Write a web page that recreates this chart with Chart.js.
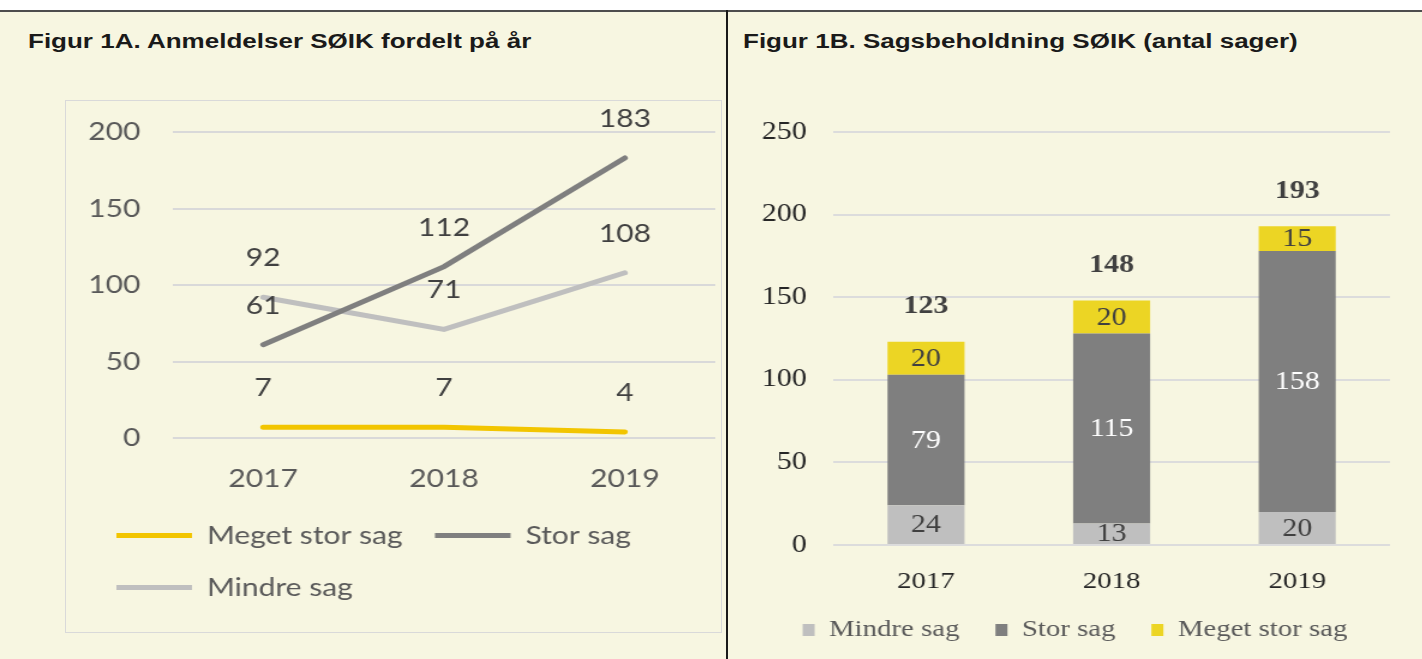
<!DOCTYPE html>
<html>
<head>
<meta charset="utf-8">
<script src="https://cdn.jsdelivr.net/npm/chart.js@4.4.1/dist/chart.umd.min.js"></script>
<style>
    html, body { margin: 0; padding: 0; background: #fff; }
    #page { position: relative; width: 1422px; height: 659px; overflow: hidden; }
    #bg { position: absolute; left: 0; top: 12px; width: 1422px; height: 647px; background: #f7f6e1; }
    #hline { position: absolute; left: 0; top: 10px; width: 1422px; height: 2px; background: #4d4d4d; }
    #vline { position: absolute; left: 726px; top: 10px; width: 2px; height: 649px; background: #1a1a1a; }
    .title { position: absolute; top: 30px; line-height: 24px; font: bold 20px "Liberation Sans", Arial, sans-serif; color: #1a1a1a; white-space: nowrap; transform: scaleX(1.3); transform-origin: 0 0; }
    #boxA { position: absolute; left: 65px; top: 100px; width: 657px; height: 533px; box-sizing: border-box; border: 1px solid #d9d9d9; }
    /* the source picture is stretched sideways, so the charts are too */
    .wrap { position: absolute; transform: scaleX(1.2); transform-origin: 0 0; }
    #wrapA { left: 66px; top: 101px; width: 546px; height: 531px; }
    #wrapB { left: 730px; top: 100px; width: 577px; height: 559px; }
</style>
</head>
<body>
<div id="page">
    <div id="bg"></div>
    <div id="hline"></div>
    <div id="vline"></div>
    <div class="title" style="left:28px">Figur 1A. Anmeldelser SØIK fordelt på år</div>
    <div class="title" style="left:743px">Figur 1B. Sagsbeholdning SØIK (antal sager)</div>
    <div id="boxA"></div>
    <div class="wrap" id="wrapA"><canvas id="chartA"></canvas></div>
    <div class="wrap" id="wrapB"><canvas id="chartB"></canvas></div>
</div>
<script>
// Categories
const years = ['2017', '2018', '2019'];

// Figur 1A: anmeldelser per år
const anmMegetStor = [7, 7, 4];
const anmStor = [61, 112, 183];
const anmMindre = [92, 71, 108];

// Figur 1B: sagsbeholdning (stacked)
const behMindre = [24, 13, 20];
const behStor = [79, 115, 158];
const behMegetStor = [20, 20, 15];

const sansFont = 'Lato';
const serifFont = '"Liberation Serif"';

// Value labels above each point of the line chart
const lineLabels = {
    id: 'lineLabels',
    afterDatasetsDraw(chart) {
        const ctx = chart.ctx;
        ctx.save();
        ctx.font = '25px ' + sansFont;
        ctx.fillStyle = '#404040';
        ctx.textAlign = 'center';
        ctx.textBaseline = 'middle';
        chart.data.datasets.forEach((ds, i) => {
            chart.getDatasetMeta(i).data.forEach((pt, j) => {
                ctx.fillText(ds.data[j], pt.x, pt.y - 39);
            });
        });
        ctx.restore();
    }
};

// Segment values inside bars plus totals above the stacks
const barLabels = {
    id: 'barLabels',
    afterDatasetsDraw(chart) {
        const ctx = chart.ctx;
        const sets = chart.data.datasets;
        ctx.save();
        ctx.textAlign = 'center';
        ctx.textBaseline = 'middle';
        ctx.font = '25px ' + serifFont;
        sets.forEach((ds, i) => {
            chart.getDatasetMeta(i).data.forEach((bar, j) => {
                ctx.fillStyle = ds.valueColor;
                ctx.fillText(ds.data[j], bar.x, (bar.y + bar.base) / 2 + 1);
            });
        });
        ctx.font = 'bold 25px ' + serifFont;
        ctx.fillStyle = '#404040';
        chart.getDatasetMeta(sets.length - 1).data.forEach((bar, j) => {
            const total = sets.reduce((sum, ds) => sum + ds.data[j], 0);
            ctx.fillText(total, bar.x, bar.y - 35);
        });
        ctx.restore();
    }
};

new Chart(document.getElementById('chartA'), {
    type: 'line',
    data: {
        labels: years,
        datasets: [
            { label: 'Meget stor sag', data: anmMegetStor, borderColor: '#f2c500', backgroundColor: '#f2c500', borderWidth: 5, borderCapStyle: 'round' },
            { label: 'Stor sag', data: anmStor, borderColor: '#7f7f7f', backgroundColor: '#7f7f7f', borderWidth: 5, borderCapStyle: 'round' },
            { label: 'Mindre sag', data: anmMindre, borderColor: '#bfbfbf', backgroundColor: '#bfbfbf', borderWidth: 5, borderCapStyle: 'round' }
        ]
    },
    options: {
        responsive: true,
        maintainAspectRatio: false,
        animation: false,
        layout: { padding: { top: 31, right: 5, left: 15, bottom: 22 } },
        elements: { point: { radius: 0 }, line: { tension: 0 } },
        plugins: {
            tooltip: { enabled: false },
            legend: {
                position: 'bottom',
                align: 'start',
                labels: {
                    usePointStyle: true,
                    pointStyle: 'line',
                    pointStyleWidth: 63,
                    padding: 27,
                    color: '#595959',
                    font: { family: sansFont, size: 25 }
                }
            }
        },
        scales: {
            x: {
                offset: true,
                grid: { display: false },
                border: { display: false },
                ticks: { padding: 18, color: '#595959', font: { family: sansFont, size: 25 } },
                afterFit: s => { s.height = 58; }
            },
            y: {
                min: 0,
                max: 200,
                grid: { color: '#d9d9d9', lineWidth: 2, drawTicks: false },
                border: { display: false },
                ticks: { stepSize: 50, padding: 27, color: '#595959', font: { family: sansFont, size: 25 } },
                afterFit: s => { s.width = 74; s.paddingTop = 0; }
            }
        }
    },
    plugins: [lineLabels]
});

new Chart(document.getElementById('chartB'), {
    type: 'bar',
    data: {
        labels: years,
        datasets: [
            { label: 'Mindre sag', data: behMindre, backgroundColor: '#bfbfbf', valueColor: '#404040' },
            { label: 'Stor sag', data: behStor, backgroundColor: '#7f7f7f', valueColor: '#ffffff' },
            { label: 'Meget stor sag', data: behMegetStor, backgroundColor: '#ecd524', valueColor: '#404040' }
        ]
    },
    options: {
        responsive: true,
        maintainAspectRatio: false,
        animation: false,
        layout: { padding: { top: 32, right: 27, left: 25, bottom: 7 } },
        datasets: { bar: { categoryPercentage: 1, barPercentage: 0.415 } },
        plugins: {
            tooltip: { enabled: false },
            legend: {
                position: 'bottom',
                labels: {
                    boxWidth: 10,
                    boxHeight: 12,
                    padding: 30,
                    color: '#595959',
                    font: { family: serifFont, size: 24 }
                }
            }
        },
        scales: {
            x: {
                stacked: true,
                grid: { display: false },
                border: { display: false },
                ticks: { padding: 14, color: '#262626', font: { family: serifFont, size: 24 } },
                afterFit: s => { s.height = 43; }
            },
            y: {
                stacked: true,
                min: 0,
                max: 250,
                grid: { color: '#dcdcdc', lineWidth: 2, drawTicks: false },
                border: { display: false },
                ticks: { stepSize: 50, padding: 22, color: '#262626', font: { family: serifFont, size: 25 } },
                afterFit: s => { s.width = 61; s.paddingTop = 0; }
            }
        }
    },
    plugins: [barLabels]
});
</script>
</body>
</html>
